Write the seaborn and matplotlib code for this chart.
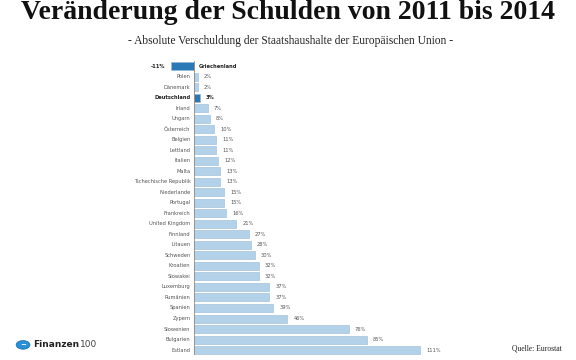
import pandas as pd
import matplotlib.pyplot as plt
import seaborn as sns
from matplotlib.patches import Circle

# Data
laender = ["Griechenland", "Polen", "Dänemark", "Deutschland", "Irland", "Ungarn",
           "Österreich", "Belgien", "Lettland", "Italien", "Malta",
           "Tschechische Republik", "Niederlande", "Portugal", "Frankreich",
           "United Kingdom", "Finnland", "Litauen", "Schweden", "Kroatien",
           "Slowakei", "Luxemburg", "Rumänien", "Spanien", "Zypern",
           "Slowenien", "Bulgarien", "Estland"]
veraenderung = [-11, 2, 2, 3, 7, 8, 10, 11, 11, 12, 13, 13, 15, 15, 16, 21,
                27, 28, 30, 32, 32, 37, 37, 39, 46, 76, 85, 111]
hervorgehoben = ["Griechenland", "Deutschland"]

df = pd.DataFrame({"land": laender, "wert": veraenderung})

hell = "#b3d1e8"
dunkel = "#2a78b6"
palette = {l: (dunkel if l in hervorgehoben else hell) for l in laender}

sns.set_style("white")
fig = plt.figure(figsize=(5.76, 3.6), dpi=100)
ax = fig.add_axes([0.297, 0.013, 0.535, 0.818])

sns.barplot(data=df, x="wert", y="land", hue="land", palette=palette,
            legend=False, orient="h", width=0.76, ax=ax, saturation=1,
            edgecolor="#98b9d4", linewidth=0.4)

ax.set_xlim(-11, 140)
ax.set_ylim(len(laender) - 0.5, -0.5)
ax.axvline(0, color="#8a8a8a", linewidth=0.6)
ax.set_xlabel("")
ax.set_ylabel("")
ax.set_xticks([])
ax.set_yticks([])
for s in ax.spines.values():
    s.set_visible(False)

for i, (land, wert) in enumerate(zip(laender, veraenderung)):
    bold = "bold" if land in hervorgehoben else "normal"
    col = "#222222" if land in hervorgehoben else "#555555"
    if wert < 0:
        ax.text(wert - 3, i, f"{wert}%", ha="right", va="center", fontsize=3.7,
                fontweight="bold", color=col)
        ax.text(2.5, i, land, ha="left", va="center", fontsize=3.7,
                fontweight=bold, color=col)
    else:
        ax.text(-1.5, i, land, ha="right", va="center", fontsize=3.7,
                fontweight=bold, color=col)
        ax.text(wert + 3, i, f"{wert}%", ha="left", va="center", fontsize=3.7,
                fontweight=bold, color=col)

fig.text(0.5, 1.0, "Veränderung der Schulden von 2011 bis 2014",
         ha="center", va="top", fontsize=20, fontweight="bold",
         family="Liberation Serif", color="#111111")
fig.text(0.505, 0.885, "- Absolute Verschuldung der Staatshaushalte der Europäischen Union -",
         ha="center", va="center", fontsize=8.3, family="Liberation Serif",
         color="#222222")

# Logo and source
fig.patches.append(Circle((0.04, 0.042), 0.012, transform=fig.transFigure,
                          facecolor="#2a8fd4", edgecolor="#1a6aa8", linewidth=0.5))
fig.text(0.04, 0.042, "~", ha="center", va="center", fontsize=5, color="white",
         fontweight="bold")
fig.text(0.058, 0.042, "Finanzen", ha="left", va="center", fontsize=6.5,
         fontweight="bold", color="#222222")
fig.text(0.139, 0.042, "100", ha="left", va="center", fontsize=6.5, color="#444444")
fig.text(0.975, 0.032, "Quelle: Eurostat", ha="right", va="center", fontsize=5.5,
         family="Liberation Serif", color="#222222")

fig.savefig("out.png", dpi=100)
